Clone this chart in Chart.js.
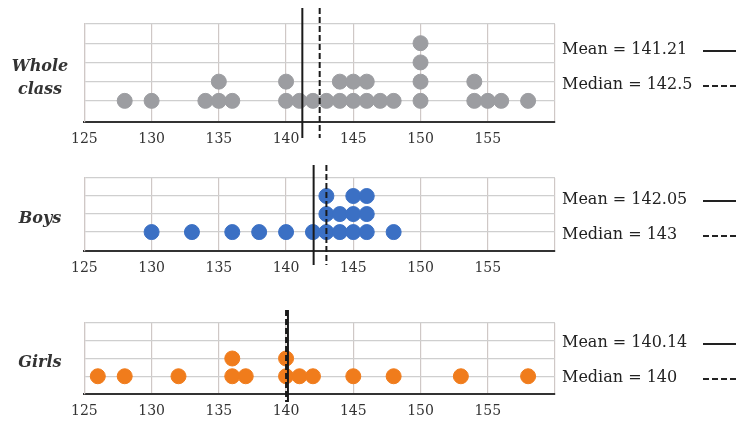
<!DOCTYPE html>
<html>
<head>
<meta charset="utf-8">
<script src="https://cdn.jsdelivr.net/npm/chart.js@4.4.1/dist/chart.umd.min.js"></script>
<style>
  body { margin: 0; background: #fff; width: 736px; height: 430px; position: relative; overflow: hidden; font-family: "DejaVu Serif", serif; }
  .panel { position: absolute; left: 62px; width: 508px; }
  .name { position: absolute; width: 80px; left: 0; text-align: center; font-style: italic; font-weight: bold; font-size: 16px; color: #333; line-height: 23px; }
  .stat { position: absolute; left: 562px; font-size: 16px; color: #222; white-space: nowrap; }
  .mark { position: absolute; left: 703px; width: 33px; height: 0; border-top: 2px solid #222; }
  .mark.dash { border-top: 2px dashed #222; }
</style>
</head>
<body>
<div class="panel" style="top:0;height:150px"><canvas id="c1"></canvas></div>
<div class="panel" style="top:150px;height:129px"><canvas id="c2"></canvas></div>
<div class="panel" style="top:295px;height:135px"><canvas id="c3"></canvas></div>

<div class="name" style="top:54px">Whole<br>class</div>
<div class="name" style="top:206px">Boys</div>
<div class="name" style="top:350px">Girls</div>

<div id="legends"></div>

<script>
// heights, one entry per dot
const wholeClass = [128, 130, 134, 135, 135, 136, 140, 140, 141, 142, 143, 144, 144, 145, 145, 146, 146, 147, 148, 150, 150, 150, 150, 154, 154, 155, 156, 158];
const boys = [130, 133, 136, 138, 140, 142, 143, 143, 143, 144, 144, 145, 145, 145, 146, 146, 146, 148];
const girls = [126, 128, 132, 136, 136, 137, 140, 140, 141, 142, 145, 148, 153, 158];

const means = [141.21, 142.05, 140.14];
const medians = [142.5, 143, 140];
const meanLabels = ['Mean = 141.21', 'Mean = 142.05', 'Mean = 140.14'];
const medianLabels = ['Median = 142.5', 'Median = 143', 'Median = 140'];
const xTicks = [125, 130, 135, 140, 145, 150, 155];

// stack repeated values into a dot plot
function stackDots(values) {
    const seen = {};
    return values.map(v => {
        seen[v] = (seen[v] || 0) + 1;
        return { x: v, y: seen[v] };
    });
}

// mean (solid) and median (dashed) lines drawn through the x scale
const statLines = {
    id: 'statLines',
    afterDatasetsDraw(chart, args, opts) {
        const ctx = chart.ctx;
        const area = chart.chartArea;
        const xs = chart.scales.x;
        ctx.save();
        ctx.strokeStyle = '#1a1a1a';
        ctx.lineWidth = 2;
        ctx.beginPath();
        ctx.moveTo(xs.getPixelForValue(opts.mean), area.top - opts.above);
        ctx.lineTo(xs.getPixelForValue(opts.mean), area.bottom + opts.below);
        ctx.stroke();
        ctx.setLineDash([6, 3]);
        ctx.beginPath();
        ctx.moveTo(xs.getPixelForValue(opts.median), area.top - opts.above);
        ctx.lineTo(xs.getPixelForValue(opts.median), area.bottom + opts.below);
        ctx.stroke();
        ctx.restore();
    }
};

function makeChart(id, values, color, yMin, yMax, mean, median, pad, above, below) {
    const ctx = document.getElementById(id).getContext('2d');
    return new Chart(ctx, {
        type: 'scatter',
        data: {
            datasets: [{
                data: stackDots(values),
                backgroundColor: color,
                borderColor: color,
                pointRadius: 7.5,
                pointHoverRadius: 7.5
            }]
        },
        options: {
            responsive: true,
            maintainAspectRatio: false,
            animation: false,
            layout: { padding: pad },
            plugins: {
                legend: { display: false },
                tooltip: { enabled: false },
                statLines: { mean: mean, median: median, above: above, below: below }
            },
            scales: {
                x: {
                    type: 'linear',
                    min: 125,
                    max: 160,
                    afterBuildTicks: axis => {
                        axis.ticks = xTicks.concat([160]).map(v => ({ value: v }));
                    },
                    afterFit: axis => { axis.height = 28; },
                    ticks: {
                        color: '#333',
                        padding: 9,
                        font: { family: 'DejaVu Serif', size: 14 },
                        callback: v => (xTicks.includes(v) ? v : '')
                    },
                    grid: { color: '#cfc8c6', lineWidth: 1.2, drawTicks: false },
                    border: { color: '#333', width: 2 }
                },
                y: {
                    min: yMin,
                    max: yMax,
                    afterBuildTicks: axis => {
                        const t = [];
                        for (let i = 1; i <= Math.floor(yMax); i++) t.push({ value: i });
                        axis.ticks = t;
                    },
                    ticks: { display: false },
                    grid: { color: '#cfcfcf', lineWidth: 1.2, drawTicks: false },
                    border: { color: '#cfc8c6', width: 1.2 }
                }
            }
        },
        plugins: [statLines]
    });
}

makeChart('c1', wholeClass, '#9c9da1', -0.1, 5, means[0], medians[0],
    { left: 14, right: 15, top: 24, bottom: 0 }, 16, 16);
makeChart('c2', boys, '#3b70c4', -0.05, 4, means[1], medians[1],
    { left: 14, right: 15, top: 28, bottom: 0 }, 13, 14);
makeChart('c3', girls, '#f07c1c', 0, 4, means[2], medians[2],
    { left: 14, right: 15, top: 28, bottom: 8 }, 13, 8);

// right-hand legend text with line samples
const legendY = [[50, 85], [200, 235], [343, 378]];
const legendBox = document.getElementById('legends');
legendY.forEach((ys, i) => {
    legendBox.insertAdjacentHTML('beforeend',
        `<div class="stat" style="top:${ys[0] - 11}px">${meanLabels[i]}</div>` +
        `<div class="mark" style="top:${ys[0]}px"></div>` +
        `<div class="stat" style="top:${ys[1] - 11}px">${medianLabels[i]}</div>` +
        `<div class="mark dash" style="top:${ys[1]}px"></div>`);
});
</script>
</body>
</html>
